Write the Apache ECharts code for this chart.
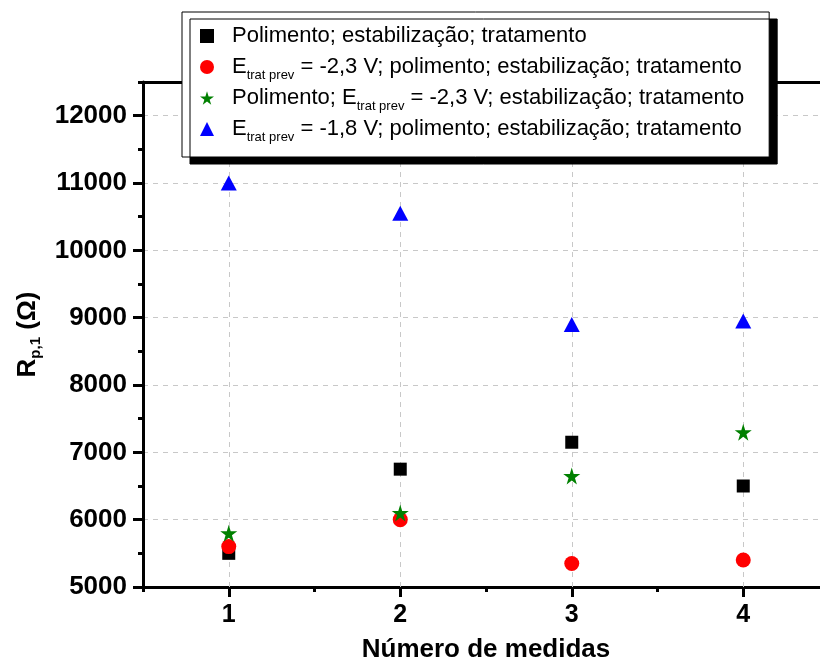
<!DOCTYPE html>
<html>
<head>
<meta charset="UTF-8">
<title>Rp,1 x número de medidas</title>
<script src="https://cdn.jsdelivr.net/npm/echarts@6/dist/echarts.min.js"></script>
<style>
  html, body { margin: 0; padding: 0; background: #fff; }
  #chart { width: 820px; height: 661px; }
</style>
</head>
<body>
<div id="chart"></div>
<script>
// dados
var medidas = [1, 2, 3, 4];
var yTicks = [5000, 6000, 7000, 8000, 9000, 10000, 11000, 12000];
var nomes = [
  'Polimento; estabilização; tratamento',
  'E{sub|trat prev} = -2,3 V; polimento; estabilização; tratamento',
  'Polimento; E{sub|trat prev} = -2,3 V; estabilização; tratamento',
  'E{sub|trat prev} = -1,8 V; polimento; estabilização; tratamento'
];
var polimento = [5500, 6750, 7150, 6500];
var trat23Antes = [5600, 6000, 5350, 5400];
var trat23Depois = [5800, 6100, 6650, 7300];
var trat18Antes = [11000, 10550, 8900, 8950];

var fonte = "'Liberation Sans', Arial, sans-serif";
var estrela = 'path://M50,0 L61,35 L98,35 L68,57 L79,91 L50,70 L21,91 L32,57 L2,35 L39,35 Z';

function pares(ys) {
  return medidas.map(function (x, i) { return [x, ys[i]]; });
}

var myChart = echarts.init(document.getElementById('chart'));

var option = {
  animation: false,
  backgroundColor: '#fff',
  grid: { left: 143, top: 82, width: 686, height: 505, containLabel: false, outerBoundsMode: 'none' },
  legend: {
    orient: 'vertical',
    left: 182,
    top: 12,
    padding: [9, 25, 13, 18],
    itemGap: 1,
    itemWidth: 14,
    itemHeight: 14,
    symbolKeepAspect: true,
    backgroundColor: '#fff',
    borderColor: '#000',
    borderWidth: 1,
    shadowColor: '#000',
    shadowBlur: 0,
    shadowOffsetX: 8,
    shadowOffsetY: 7,
    data: nomes,
    itemStyle: { opacity: 1 },
    textStyle: {
      fontFamily: fonte,
      fontSize: 22,
      color: '#000',
      lineHeight: 30,
      padding: [0, 0, 0, 13],
      rich: {
        sub: { fontFamily: fonte, fontSize: 13, lineHeight: 10, verticalAlign: 'bottom', color: '#000' }
      }
    }
  },
  xAxis: [{
    type: 'value',
    position: 'bottom',
    min: 0.5,
    max: 4.5,
    name: 'Número de medidas',
    nameLocation: 'middle',
    nameGap: 50,
    nameTextStyle: { fontFamily: fonte, fontSize: 26, fontWeight: 'bold', color: '#000' },
    axisLine: { onZero: false, lineStyle: { color: '#000', width: 3 } },
    axisTick: { inside: false, length: 10, customValues: medidas, lineStyle: { color: '#000', width: 3 } },
    axisLabel: { customValues: medidas, margin: 16, fontFamily: fonte, fontSize: 25, fontWeight: 'bold', color: '#000' },
    splitLine: { show: false }
  }, {
    type: 'value',
    position: 'bottom',
    min: 0.5,
    max: 4.5,
    interval: 0.5,
    axisLine: { show: false, onZero: false },
    axisTick: { length: 5, lineStyle: { color: '#000', width: 3 } },
    axisLabel: { show: false },
    splitLine: { show: false }
  }, {
    type: 'value',
    position: 'top',
    min: 0.5,
    max: 4.5,
    axisLine: { onZero: false, lineStyle: { color: '#000', width: 3 } },
    axisTick: { show: false },
    axisLabel: { show: false },
    splitLine: { show: false }
  }],
  yAxis: [{
    type: 'value',
    position: 'left',
    min: 5000,
    max: 12500,
    interval: 1000,
    name: '{b|R}{s|p,1}{b| (Ω)}',
    nameLocation: 'middle',
    nameRotate: 90,
    nameGap: 100,
    nameTextStyle: {
      rich: {
        b: { fontFamily: fonte, fontSize: 26, fontWeight: 'bold', color: '#000', lineHeight: 30 },
        s: { fontFamily: fonte, fontSize: 15, fontWeight: 'bold', color: '#000', lineHeight: 12, verticalAlign: 'bottom' }
      }
    },
    axisLine: { onZero: false, lineStyle: { color: '#000', width: 3 } },
    axisTick: { length: 10, customValues: yTicks, lineStyle: { color: '#000', width: 3 } },
    axisLabel: {
      customValues: yTicks,
      formatter: function (v) { return String(v); },
      margin: 16, fontFamily: fonte, fontSize: 26, fontWeight: 'bold', color: '#000'
    },
    splitLine: { show: true, lineStyle: { color: '#c8c8c8', width: 1, type: [5, 5] } }
  }, {
    type: 'value',
    position: 'left',
    min: 5000,
    max: 12500,
    interval: 500,
    axisLine: { show: false, onZero: false },
    axisTick: { length: 5, lineStyle: { color: '#000', width: 3 } },
    axisLabel: { show: false },
    splitLine: { show: false }
  }],
  series: [{
    name: 'grade',
    type: 'scatter',
    data: [],
    silent: true,
    z: 1,
    markLine: {
      silent: true,
      z: 1,
      symbol: 'none',
      label: { show: false },
      lineStyle: { color: '#c8c8c8', width: 1, type: [5, 5] },
      data: medidas.map(function (m) { return { xAxis: m }; })
    }
  }, {
    name: nomes[0],
    type: 'scatter',
    z: 3,
    symbol: 'rect',
    symbolSize: 13,
    itemStyle: { color: '#000', opacity: 1 },
    data: pares(polimento)
  }, {
    name: nomes[1],
    type: 'scatter',
    z: 3,
    symbol: 'circle',
    symbolSize: 15,
    itemStyle: { color: '#ff0000', opacity: 1 },
    data: pares(trat23Antes)
  }, {
    name: nomes[2],
    type: 'scatter',
    z: 3,
    symbol: estrela,
    symbolSize: 17,
    itemStyle: { color: '#008000', opacity: 1 },
    data: pares(trat23Depois)
  }, {
    name: nomes[3],
    type: 'scatter',
    z: 3,
    symbol: 'triangle',
    symbolSize: [16, 15],
    itemStyle: { color: '#0000ff', opacity: 1 },
    data: pares(trat18Antes)
  }]
};

myChart.setOption(option);
</script>
</body>
</html>
